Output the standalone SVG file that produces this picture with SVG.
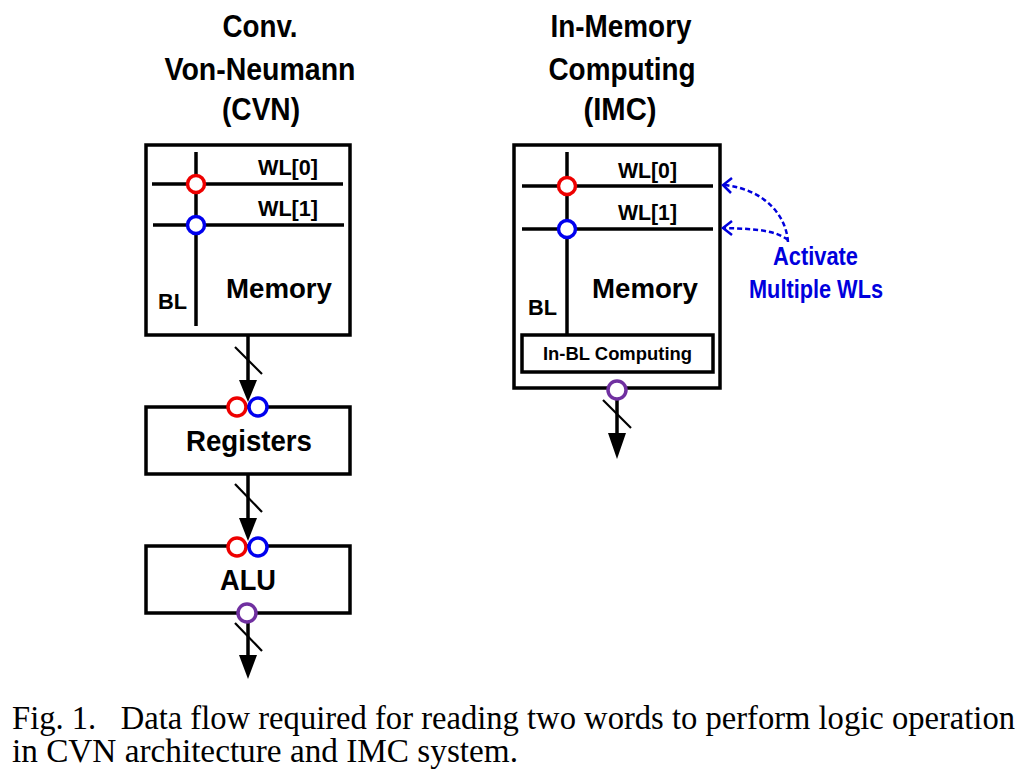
<svg xmlns="http://www.w3.org/2000/svg" width="1027" height="783" viewBox="0 0 1027 783">
<style>
.box{fill:none;stroke:#000;stroke-width:3.5}
.ln{stroke:#000;stroke-width:3.5;fill:none}
.sl{stroke:#000;stroke-width:2.2;fill:none}
.ah{fill:#000}
.t{font-family:"Liberation Sans",Arial,sans-serif;font-weight:bold;fill:#000}
.bt{font-family:"Liberation Sans",Arial,sans-serif;font-weight:bold;fill:#0000dd}
.red{fill:#fff;stroke:#ee0000;stroke-width:3.5}
.blue{fill:#fff;stroke:#0000ee;stroke-width:3.5}
.pur{fill:#fff;stroke:#7030a0;stroke-width:3.5}
.dash{fill:none;stroke:#0000dd;stroke-width:2.5;stroke-dasharray:5,3}
.chev{fill:none;stroke:#0000dd;stroke-width:2.5}
.cap{font-family:"Liberation Serif","Times New Roman",serif;font-size:33px;fill:#000}
</style>

<g id="title-cvn" class="t" font-size="32" text-anchor="middle">
<text x="260" y="37" textLength="75" lengthAdjust="spacingAndGlyphs">Conv.</text>
<text x="260" y="80" textLength="191" lengthAdjust="spacingAndGlyphs">Von-Neumann</text>
<text x="261" y="120" textLength="78" lengthAdjust="spacingAndGlyphs">(CVN)</text>
</g>
<g id="title-imc" class="t" font-size="32" text-anchor="middle">
<text x="621" y="37" textLength="141" lengthAdjust="spacingAndGlyphs">In-Memory</text>
<text x="622" y="80" textLength="147" lengthAdjust="spacingAndGlyphs">Computing</text>
<text x="620" y="120" textLength="73" lengthAdjust="spacingAndGlyphs">(IMC)</text>
</g>

<g id="cvn-memory">
<rect class="box" x="146" y="145" width="204" height="190"/>
<line class="ln" x1="152" y1="184" x2="343" y2="184"/>
<line class="ln" x1="153" y1="225" x2="344" y2="225"/>
<line class="ln" x1="196" y1="152" x2="196" y2="326"/>
<circle class="red" cx="196" cy="184" r="8.5"/>
<circle class="blue" cx="196" cy="225" r="8.5"/>
<text class="t" x="258" y="175" font-size="22" textLength="60" lengthAdjust="spacingAndGlyphs">WL[0]</text>
<text class="t" x="258" y="216" font-size="22" textLength="60" lengthAdjust="spacingAndGlyphs">WL[1]</text>
<text class="t" x="226" y="298" font-size="28" textLength="106" lengthAdjust="spacingAndGlyphs">Memory</text>
<text class="t" x="158" y="309" font-size="22" textLength="29" lengthAdjust="spacingAndGlyphs">BL</text>
</g>

<g id="cvn-registers">
<rect class="box" x="146" y="407" width="204" height="67"/>
<text class="t" x="186" y="451" font-size="30" textLength="126" lengthAdjust="spacingAndGlyphs">Registers</text>
</g>

<g id="cvn-alu">
<rect class="box" x="146" y="546" width="204" height="67"/>
<text class="t" x="220" y="590" font-size="30" textLength="56" lengthAdjust="spacingAndGlyphs">ALU</text>
</g>

<g id="imc-memory">
<rect class="box" x="514" y="145" width="206" height="243"/>
<line class="ln" x1="522" y1="186" x2="713" y2="186"/>
<line class="ln" x1="522" y1="229" x2="713" y2="229"/>
<line class="ln" x1="567" y1="152" x2="567" y2="335"/>
<circle class="red" cx="567" cy="186" r="8.5"/>
<circle class="blue" cx="567" cy="229" r="8.5"/>
<text class="t" x="618" y="178" font-size="22" textLength="59" lengthAdjust="spacingAndGlyphs">WL[0]</text>
<text class="t" x="618" y="220" font-size="22" textLength="59" lengthAdjust="spacingAndGlyphs">WL[1]</text>
<text class="t" x="592" y="298" font-size="28" textLength="106" lengthAdjust="spacingAndGlyphs">Memory</text>
<text class="t" x="528" y="315" font-size="22" textLength="29" lengthAdjust="spacingAndGlyphs">BL</text>
</g>
<g id="imc-inbl">
<rect class="box" x="522" y="335" width="191" height="37"/>
<text class="t" x="543" y="360" font-size="19" textLength="149" lengthAdjust="spacingAndGlyphs">In-BL Computing</text>
</g>

<g id="annotation">
<text class="bt" x="773" y="265" font-size="25" textLength="85" lengthAdjust="spacingAndGlyphs">Activate</text>
<text class="bt" x="749" y="298" font-size="25" textLength="134" lengthAdjust="spacingAndGlyphs">Multiple WLs</text>
</g>

<g id="connectors">
<line class="ln" x1="248" y1="335" x2="248" y2="385"/>
<path class="ah" d="M239,380 L257,380 L248,402 Z"/>
<line class="sl" x1="235" y1="347" x2="262" y2="374"/>
<line class="ln" x1="248" y1="474" x2="248" y2="522"/>
<path class="ah" d="M239,518 L257,518 L248,541 Z"/>
<line class="sl" x1="235" y1="484" x2="262" y2="512"/>
<line class="ln" x1="248" y1="614" x2="248" y2="660"/>
<path class="ah" d="M239,655 L257,655 L248,679 Z"/>
<line class="sl" x1="235" y1="623" x2="262" y2="651"/>
<line class="ln" x1="617" y1="390" x2="617" y2="437"/>
<path class="ah" d="M608,433 L626,433 L617,459 Z"/>
<line class="sl" x1="603" y1="400" x2="631" y2="428"/>
<path class="dash" d="M788,242 C786,215 765,190 725,185"/>
<path class="chev" d="M732,178 L723,185 L731,193"/>
<path class="dash" d="M788,240 C775,230 755,229 725,228"/>
<path class="chev" d="M732,221 L723,228 L732,235"/>
</g>

<g id="ports">
<circle class="red" cx="237" cy="407" r="9"/>
<circle class="blue" cx="258" cy="407" r="9"/>
<circle class="red" cx="237" cy="547" r="9"/>
<circle class="blue" cx="258" cy="547" r="9"/>
<circle class="pur" cx="247" cy="613" r="9"/>
<circle class="pur" cx="617" cy="390" r="9"/>
</g>

<g id="caption" class="cap">
<text x="12" y="729" textLength="1003" lengthAdjust="spacingAndGlyphs" xml:space="preserve">Fig. 1.   Data flow required for reading two words to perform logic operation</text>
<text x="12" y="762" textLength="506" lengthAdjust="spacingAndGlyphs">in CVN architecture and IMC system.</text>
</g>
</svg>
